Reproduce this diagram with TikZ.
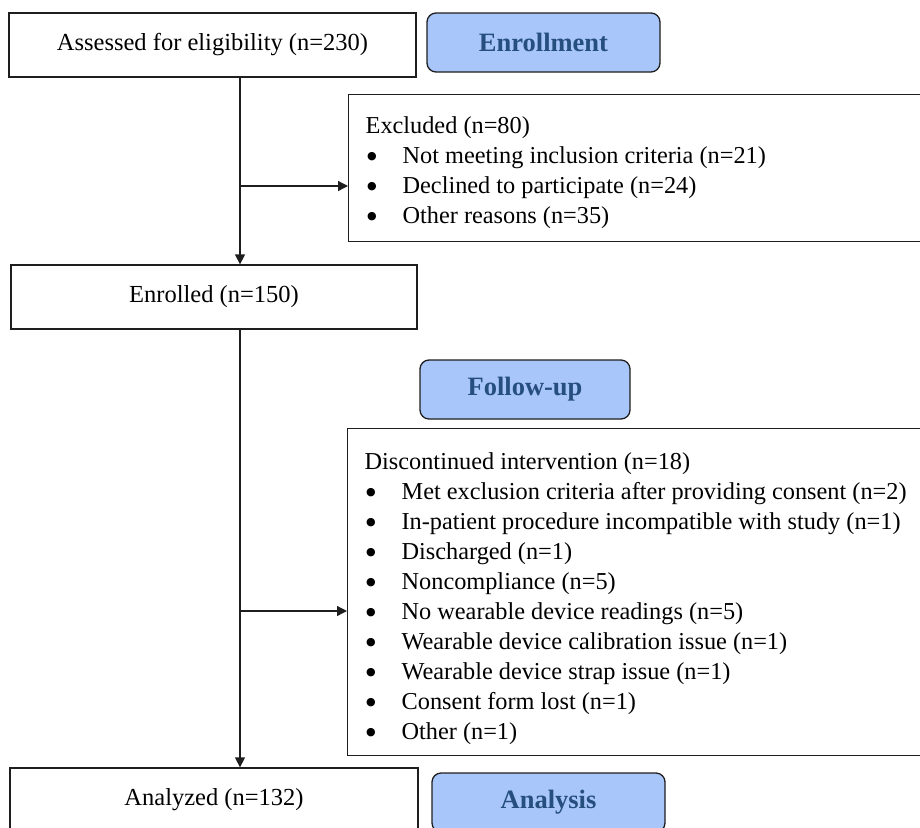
\documentclass[tikz,border=0pt]{standalone}
\usepackage{fontspec}
\setmainfont{Liberation Serif}
\newfontfamily\symfont{DejaVu Sans}
\usetikzlibrary{arrows.meta}
\definecolor{lblfill}{RGB}{168,198,250}
\definecolor{lbltext}{RGB}{38,79,125}
\definecolor{edgec}{RGB}{30,30,30}
\newcommand\bitem[1]{\makebox[37pt][l]{\hspace{1.5pt}\raisebox{3.5pt}{\symfont\fontsize{11}{11}\selectfont ●}}#1}
\newcommand\shiftedlist[2]{\raisebox{-#1}[\height][\depth]{\makebox[566pt][l]{\begin{tabular}{@{}l@{}}#2\end{tabular}}}}
\begin{document}
\begin{tikzpicture}[x=1pt,y=-1pt,
  box/.style={draw=edgec, line width=1.3pt, rectangle, inner sep=0pt,
    font=\fontsize{24.5}{30}\selectfont},
  listbox/.style={draw=edgec, line width=1.3pt, rectangle, anchor=north west,
    inner xsep=17pt, inner ysep=0pt, font=\fontsize{24.3}{30}\selectfont},
  lbl/.style={draw=edgec, line width=1.3pt, rounded corners=9pt, fill=lblfill,
    text=lbltext, font=\fontsize{26.5}{30}\selectfont\bfseries, inner sep=0pt},
  arr/.style={draw=edgec, line width=1.3pt, -{Triangle[length=10pt,width=10pt]}},
  conn/.style={draw=edgec, line width=1.3pt}]
\useasboundingbox (0,0) rectangle (920,827);
\clip (0,0) rectangle (920,827);

\node[box, minimum width=407pt, minimum height=64pt] (assessed) at (212.5,45)
  {Assessed for eligibility (n=230)};
\node[lbl, minimum width=233pt, minimum height=59pt] (enrollment) at (543.5,42.5)
  {Enrollment};
\node[listbox, minimum height=147pt] (excluded) at (348,94)
  {\shiftedlist{4pt}{Excluded (n=80)\\
   \bitem{Not meeting inclusion criteria (n=21)}\\
   \bitem{Declined to participate (n=24)}\\
   \bitem{Other reasons (n=35)}}};
\node[box, minimum width=406pt, minimum height=64pt] (enrolled) at (214,297)
  {Enrolled (n=150)};
\node[lbl, minimum width=210pt, minimum height=59pt] (followup) at (525,389.5)
  {Follow-up};
\node[listbox, minimum height=327pt] (discont) at (347,428)
  {\shiftedlist{6pt}{Discontinued intervention (n=18)\\
   \bitem{Met exclusion criteria after providing consent (n=2)}\\
   \bitem{In-patient procedure incompatible with study (n=1)}\\
   \bitem{Discharged (n=1)}\\
   \bitem{Noncompliance (n=5)}\\
   \bitem{No wearable device readings (n=5)}\\
   \bitem{Wearable device calibration issue (n=1)}\\
   \bitem{Wearable device strap issue (n=1)}\\
   \bitem{Consent form lost (n=1)}\\
   \bitem{Other (n=1)}}};
\node[box, minimum width=408pt, minimum height=64pt] (analyzed) at (214,800)
  {Analyzed (n=132)};
\node[lbl, minimum width=233pt, minimum height=59pt] (analysis) at (548.5,802.5)
  {Analysis};

\coordinate (trunk) at (240,0);
\coordinate (j1) at (240,186);
\coordinate (j2) at (240,611);
\draw[arr] (assessed.south -| trunk) -- (enrolled.north -| trunk);
\draw[arr] (j1) -- (j1 -| excluded.west);
\draw[arr] (enrolled.south -| trunk) -- (analyzed.north -| trunk);
\draw[arr] (j2) -- (j2 -| discont.west);
\end{tikzpicture}
\end{document}
